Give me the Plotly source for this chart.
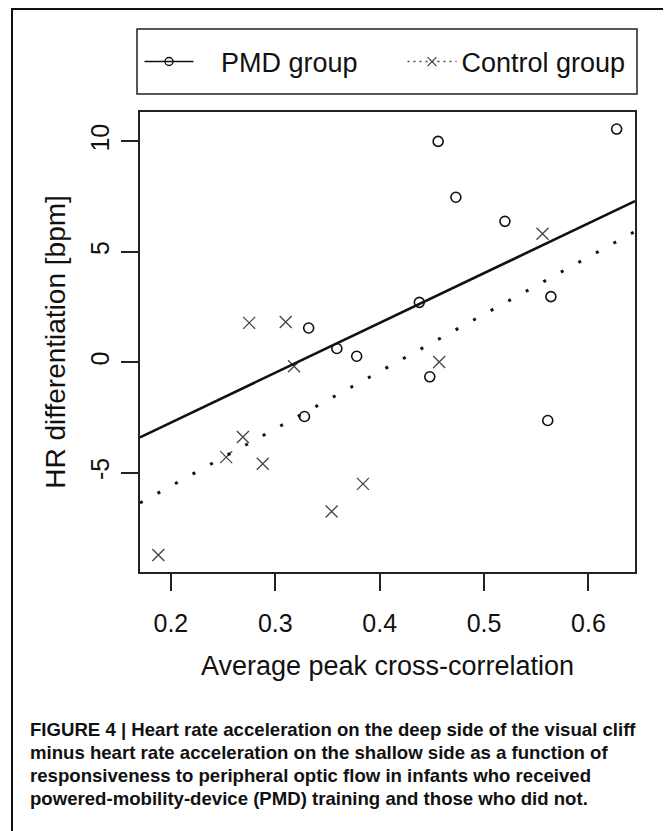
import numpy as np
import plotly.graph_objects as go

# PMD group (open circles)
pmd_x = [0.456, 0.627, 0.473, 0.520, 0.564, 0.438, 0.332, 0.359, 0.378, 0.328, 0.448, 0.561]
pmd_y = [10.0, 10.56, 7.47, 6.38, 2.97, 2.71, 1.55, 0.62, 0.27, -2.46, -0.66, -2.64]

# Control group (crosses)
ctrl_x = [0.556, 0.275, 0.310, 0.318, 0.269, 0.253, 0.288, 0.384, 0.354, 0.188, 0.457]
ctrl_y = [5.82, 1.78, 1.82, -0.18, -3.39, -4.30, -4.60, -5.51, -6.76, -8.73, 0.01]

x_ticks = [0.2, 0.3, 0.4, 0.5, 0.6]
y_ticks = [-5, 0, 5, 10]

caption_lines = [
    "FIGURE 4 | Heart rate acceleration on the deep side of the visual cliff",
    "minus heart rate acceleration on the shallow side as a function of",
    "responsiveness to peripheral optic flow in infants who received",
    "powered-mobility-device (PMD) training and those who did not.",
]

FONT = "Liberation Sans, Arial, sans-serif"

# page has an 8px body margin, so the figure is a bit smaller than the window
OFF = 8
W, H = 671 - OFF, 831 - OFF
# plot area in page pixels
L, R, T, B = 140, 635, 112, 572


def xp(px):
    return (px - L) / (R - L)


def yp(py):
    return (B - py) / (B - T)


def r_range(vals):
    lo, hi = min(vals), max(vals)
    pad = 0.04 * (hi - lo)
    return [lo - pad, hi + pad]


x_range = r_range(pmd_x + ctrl_x)
y_range = r_range(pmd_y + ctrl_y)

# least squares fit lines across the whole plot, like abline()
pmd_fit = np.polyfit(pmd_x, pmd_y, 1)
ctrl_fit = np.polyfit(ctrl_x, ctrl_y, 1)
line_x = np.array(x_range)

fig = go.Figure()

fig.add_trace(go.Scatter(
    x=pmd_x, y=pmd_y, mode='markers', showlegend=False,
    marker=dict(symbol='circle-open', size=10, color='#111', line=dict(width=1.6, color='#111'))
))
fig.add_trace(go.Scatter(
    x=ctrl_x, y=ctrl_y, mode='markers', showlegend=False,
    marker=dict(symbol='x-thin-open', size=12, color='#444', line=dict(width=1.3, color='#444'))
))
fig.add_trace(go.Scatter(
    x=line_x, y=np.polyval(pmd_fit, line_x), mode='lines', showlegend=False,
    line=dict(color='#111', width=2.6)
))
fig.add_trace(go.Scatter(
    x=line_x, y=np.polyval(ctrl_fit, line_x), mode='lines', showlegend=False,
    line=dict(color='#111', width=3, dash='3px,17px')
))

# legend entries
fig.add_trace(go.Scatter(
    x=[None], y=[None], mode='lines+markers', name='\u00a0\u00a0\u00a0PMD group',
    line=dict(color='#111', width=1.6),
    marker=dict(symbol='circle-open', size=8, color='#111', line=dict(width=1.4, color='#111'))
))
fig.add_trace(go.Scatter(
    x=[None], y=[None], mode='lines+markers', name='Control group',
    line=dict(color='#444', width=1.6, dash='2px,4px'),
    marker=dict(symbol='x-thin-open', size=9, color='#444', line=dict(width=1.2, color='#444'))
))

axis_common = dict(
    showgrid=False, zeroline=False,
    showline=True, mirror=True, linecolor='#222', linewidth=1.5,
    ticks='outside', ticklen=17, tickwidth=1.5, tickcolor='#222',
    tickfont=dict(family=FONT, size=25, color='#111'),
)

fig.update_xaxes(
    range=x_range, tickvals=x_ticks, ticktext=[f"{v:.1f}" for v in x_ticks],
    ticklabelstandoff=11,
    title=dict(text='Average peak cross-correlation', font=dict(family=FONT, size=27, color='#111'), standoff=20),
    **axis_common
)
fig.update_yaxes(
    range=y_range, tickvals=y_ticks, ticktext=[str(v) for v in y_ticks],
    tickangle=-90, ticklabelstandoff=2,
    title=dict(text='HR differentiation [bpm]', font=dict(family=FONT, size=28, color='#111'), standoff=12),
    **axis_common
)

shapes = [
    # outer figure frame
    dict(type='rect', xref='paper', yref='paper', x0=xp(12), x1=xp(665), y0=yp(845), y1=yp(9),
         line=dict(color='#111', width=2), fillcolor='rgba(0,0,0,0)', layer='below'),
    # legend box
    dict(type='rect', xref='paper', yref='paper', x0=xp(137), x1=xp(637), y0=yp(94), y1=yp(29),
         line=dict(color='#222', width=1.5), fillcolor='rgba(0,0,0,0)'),
]

caption_y = [729, 752, 775, 798]
annotations = [
    dict(text=f"<b>{txt}</b>", xref='paper', yref='paper', x=xp(28), y=yp(cy),
         xanchor='left', yanchor='middle', showarrow=False, align='left',
         font=dict(family=FONT, size=18.6, color='#111'))
    for txt, cy in zip(caption_lines, caption_y)
]

fig.update_layout(
    width=W, height=H,
    margin=dict(l=L - OFF, r=OFF + W - R, t=T - OFF, b=OFF + H - B, autoexpand=False),
    paper_bgcolor='white', plot_bgcolor='white',
    font=dict(family=FONT, color='#111'),
    showlegend=True,
    legend=dict(
        orientation='h', x=xp(139.5), y=yp(62), xanchor='left', yanchor='middle',
        font=dict(family=FONT, size=27, color='#111'),
        itemwidth=49, entrywidth=199, entrywidthmode='pixels',
        bgcolor='rgba(0,0,0,0)', borderwidth=0,
    ),
    shapes=shapes,
    annotations=annotations,
)

fig.write_html("out.html")
